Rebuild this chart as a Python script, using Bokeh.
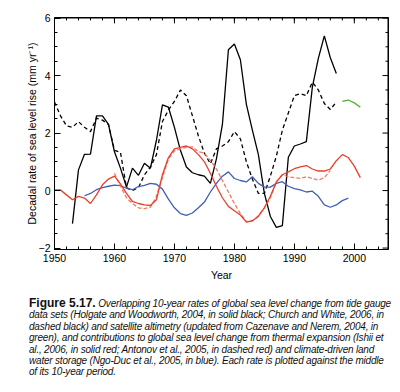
from bokeh.plotting import figure
from bokeh.models import (SingleIntervalTicker, Range1d, Div)
from bokeh.layouts import column
from bokeh.embed import file_html
from bokeh.resources import INLINE

# Holgate & Woodworth (solid black)
hw_years = list(range(1953, 1998))
hw_vals = [-1.15, 0.72, 1.26, 1.27, 2.6, 2.6, 2.3, 1.35, 0.78, 0.12,
           0.78, 0.53, 0.95, 0.78, 1.75, 2.98, 2.9, 2.2, 1.4, 0.82,
           0.62, 0.55, 0.5, 0.25, 1.1, 2.3, 4.9, 5.1, 4.55, 3.0,
           2.1, 1.25, -0.1, -0.9, -1.28, -1.22, 1.16, 1.55, 1.62, 1.7,
           3.6, 4.6, 5.38, 4.62, 4.07]

# Church & White (dashed black)
cw_years = list(range(1950, 1998))
cw_vals = [3.08, 2.6, 2.25, 2.2, 2.4, 2.2, 2.05, 2.52, 2.45, 2.3,
           1.4, 1.33, 0.1, 0.0, 0.1, 0.55, 0.82, 1.25, 2.4, 2.8,
           3.1, 3.5, 3.3, 2.6, 1.9, 1.3, 0.93, 1.45, 1.55, 1.7,
           2.05, 1.8, 1.0, 0.4, -0.1, -0.1, 0.5, 1.2, 2.1, 2.7,
           3.3, 3.37, 3.3, 3.77, 3.5, 3.03, 2.82, 3.08]

# Satellite altimetry (green)
sat_years = [1998, 1999, 2000, 2001]
sat_vals = [3.1, 3.15, 3.05, 2.9]

# Ishii (solid red)
ish_years = list(range(1950, 2002))
ish_vals = [0.02, 0.02, -0.15, -0.32, -0.2, -0.26, -0.45, -0.15, 0.2, 0.4,
            0.5, 0.23, -0.1, -0.38, -0.45, -0.5, -0.52, -0.32, 0.55, 1.15,
            1.45, 1.5, 1.55, 1.45, 1.25, 1.0, 0.6, 0.15, -0.25, -0.55,
            -0.7, -0.85, -1.1, -1.05, -0.9, -0.6, -0.2, 0.3, 0.55, 0.65,
            0.76, 0.82, 0.87, 0.75, 0.68, 0.68, 0.75, 1.04, 1.25, 1.15,
            0.85, 0.45]

# Antonov (dashed red)
ant_years = list(range(1960, 1997))
ant_vals = [0.6, 0.15, -0.25, -0.45, -0.6, -0.63, -0.58, -0.2, 0.45, 1.1,
            1.38, 1.45, 1.5, 1.52, 1.35, 1.3, 1.05, 0.75, 0.35, -0.05,
            -0.45, -0.8, -1.08, -1.05, -0.88, -0.6, -0.25, 0.3, 0.55, 0.48,
            0.45, 0.42, 0.48, 0.42, 0.36, 0.45, 0.7]

# Ngo-Duc land water storage (blue)
ngo_years = list(range(1955, 2000))
ngo_vals = [-0.18, -0.1, 0.03, 0.1, 0.15, 0.19, 0.17, 0.08, 0.03, 0.14,
            0.18, 0.25, 0.22, 0.05, -0.3, -0.6, -0.8, -0.86, -0.78, -0.6,
            -0.4, -0.05, 0.25, 0.5, 0.65, 0.42, 0.35, 0.3, 0.48, 0.25,
            0.12, 0.12, 0.25, 0.31, 0.15, 0.07, 0.02, -0.05, -0.02, -0.2,
            -0.5, -0.58, -0.5, -0.35, -0.26]

x_major_ticks = [1950, 1960, 1970, 1980, 1990, 2000]
x_minor_ticks = list(range(1952, 2006, 2))
y_major_ticks = [-2, 0, 2, 4, 6]
y_minor_ticks = [-1.5, -1, -0.5, 0.5, 1, 1.5, 2.5, 3, 3.5, 4.5, 5, 5.5]

y_label = "Decadal rate of sea level rise (mm yr\u207b\u00b9)"
x_label = "Year"
caption_bold = "Figure 5.17."
caption_lines = [
    " Overlapping 10-year rates of global sea level change from tide gauge",
    "data sets (Holgate and Woodworth, 2004, in solid black; Church and White, 2006, in",
    "dashed black) and satellite altimetry (updated from Cazenave and Nerem, 2004, in",
    "green), and contributions to global sea level change from thermal expansion (Ishii et",
    "al., 2006, in solid red; Antonov et al., 2005, in dashed red) and climate-driven land",
    "water storage (Ngo-Duc et al., 2005, in blue). Each rate is plotted against the middle",
    "of its 10-year period.",
]

FONT = "Liberation Sans"

W, H = 400, 283
BL, BR, BT, BB = 54, 12, 17, 30
xr = Range1d(1950, 2005.7)
yr = Range1d(-2.05, 6.02)
p = figure(width=W, height=H, output_backend="svg", toolbar_location=None,
           x_range=xr, y_range=yr,
           min_border_left=BL, min_border_right=BR, min_border_top=BT,
           min_border_bottom=BB,
           background_fill_color="white", border_fill_color="white")
p.outline_line_color = "black"
p.xgrid.visible = False
p.ygrid.visible = False

def style_axis(ax, ticker_interval, minor, label):
    ax.ticker = SingleIntervalTicker(interval=ticker_interval, num_minor_ticks=minor)
    ax.major_tick_in = 6
    ax.major_tick_out = 0
    ax.minor_tick_in = 3
    ax.minor_tick_out = 0
    ax.axis_line_color = "black"
    ax.major_tick_line_color = "black"
    ax.minor_tick_line_color = "black"
    ax.major_label_text_font = FONT
    ax.major_label_text_font_size = "10.5px"
    ax.major_label_text_color = "black"
    ax.major_label_standoff = 4
    ax.axis_label = label
    ax.axis_label_text_font = FONT
    ax.axis_label_text_font_size = "10.5px"
    ax.axis_label_text_font_style = "normal"
    ax.axis_label_text_color = "black"
    return ax

style_axis(p.xaxis[0], 10, 5, x_label).axis_label_standoff = 4
style_axis(p.yaxis[0], 2, 4, y_label).axis_label_standoff = -2

# pixel -> data conversion for tick lengths on the mirrored (top/right) edges
px_x = (xr.end - xr.start) / (W - BL - BR)
px_y = (yr.end - yr.start) / (H - BT - BB)
nan = float("nan")

def top_ticks(ticks, length):
    xs, ys = [], []
    for t in ticks:
        xs += [t, t, nan]
        ys += [yr.end, yr.end - length * px_y, nan]
    return xs, ys

def right_ticks(ticks, length):
    xs, ys = [], []
    for t in ticks:
        xs += [xr.end, xr.end - length * px_x, nan]
        ys += [t, t, nan]
    return xs, ys

for tks, ln in ((x_major_ticks, 6), (x_minor_ticks, 3)):
    xs, ys = top_ticks(tks, ln)
    p.line(xs, ys, line_color="black", line_width=1)
for tks, ln in ((y_major_ticks, 6), (y_minor_ticks, 3)):
    xs, ys = right_ticks(tks, ln)
    p.line(xs, ys, line_color="black", line_width=1)
# top and right frame edges
p.line([xr.start, xr.end, xr.end], [yr.end, yr.end, yr.start],
       line_color="black", line_width=2)

p.line(cw_years, cw_vals, line_color="black", line_width=1.3, line_dash="4 3")
p.line(hw_years, hw_vals, line_color="black", line_width=1.3)
p.line(sat_years, sat_vals, line_color="#55b030", line_width=1.3)
p.line(ngo_years, ngo_vals, line_color="#4060b4", line_width=1.3)
p.line(ant_years, ant_vals, line_color="#f07a66", line_width=1.3, line_dash="4 2")
p.line(ish_years, ish_vals, line_color="#e8402a", line_width=1.3)

html = ("<div style=\"font-family:'Liberation Sans',Arial,sans-serif;font-size:10px;"
        "line-height:11.4px;letter-spacing:-0.2px;white-space:nowrap;color:#111;\">"
        "<b style='font-style:normal;letter-spacing:0;font-size:12px;line-height:11.4px'>"
        + caption_bold + "</b>"
        + "<i>" + "<br>".join(caption_lines) + "</i></div>")
cap = Div(text=html, width=371, height=93, margin=(15, 0, 0, 29))

layout = column(p, cap, spacing=0)
open("out.html", "w").write(file_html(layout, INLINE))
